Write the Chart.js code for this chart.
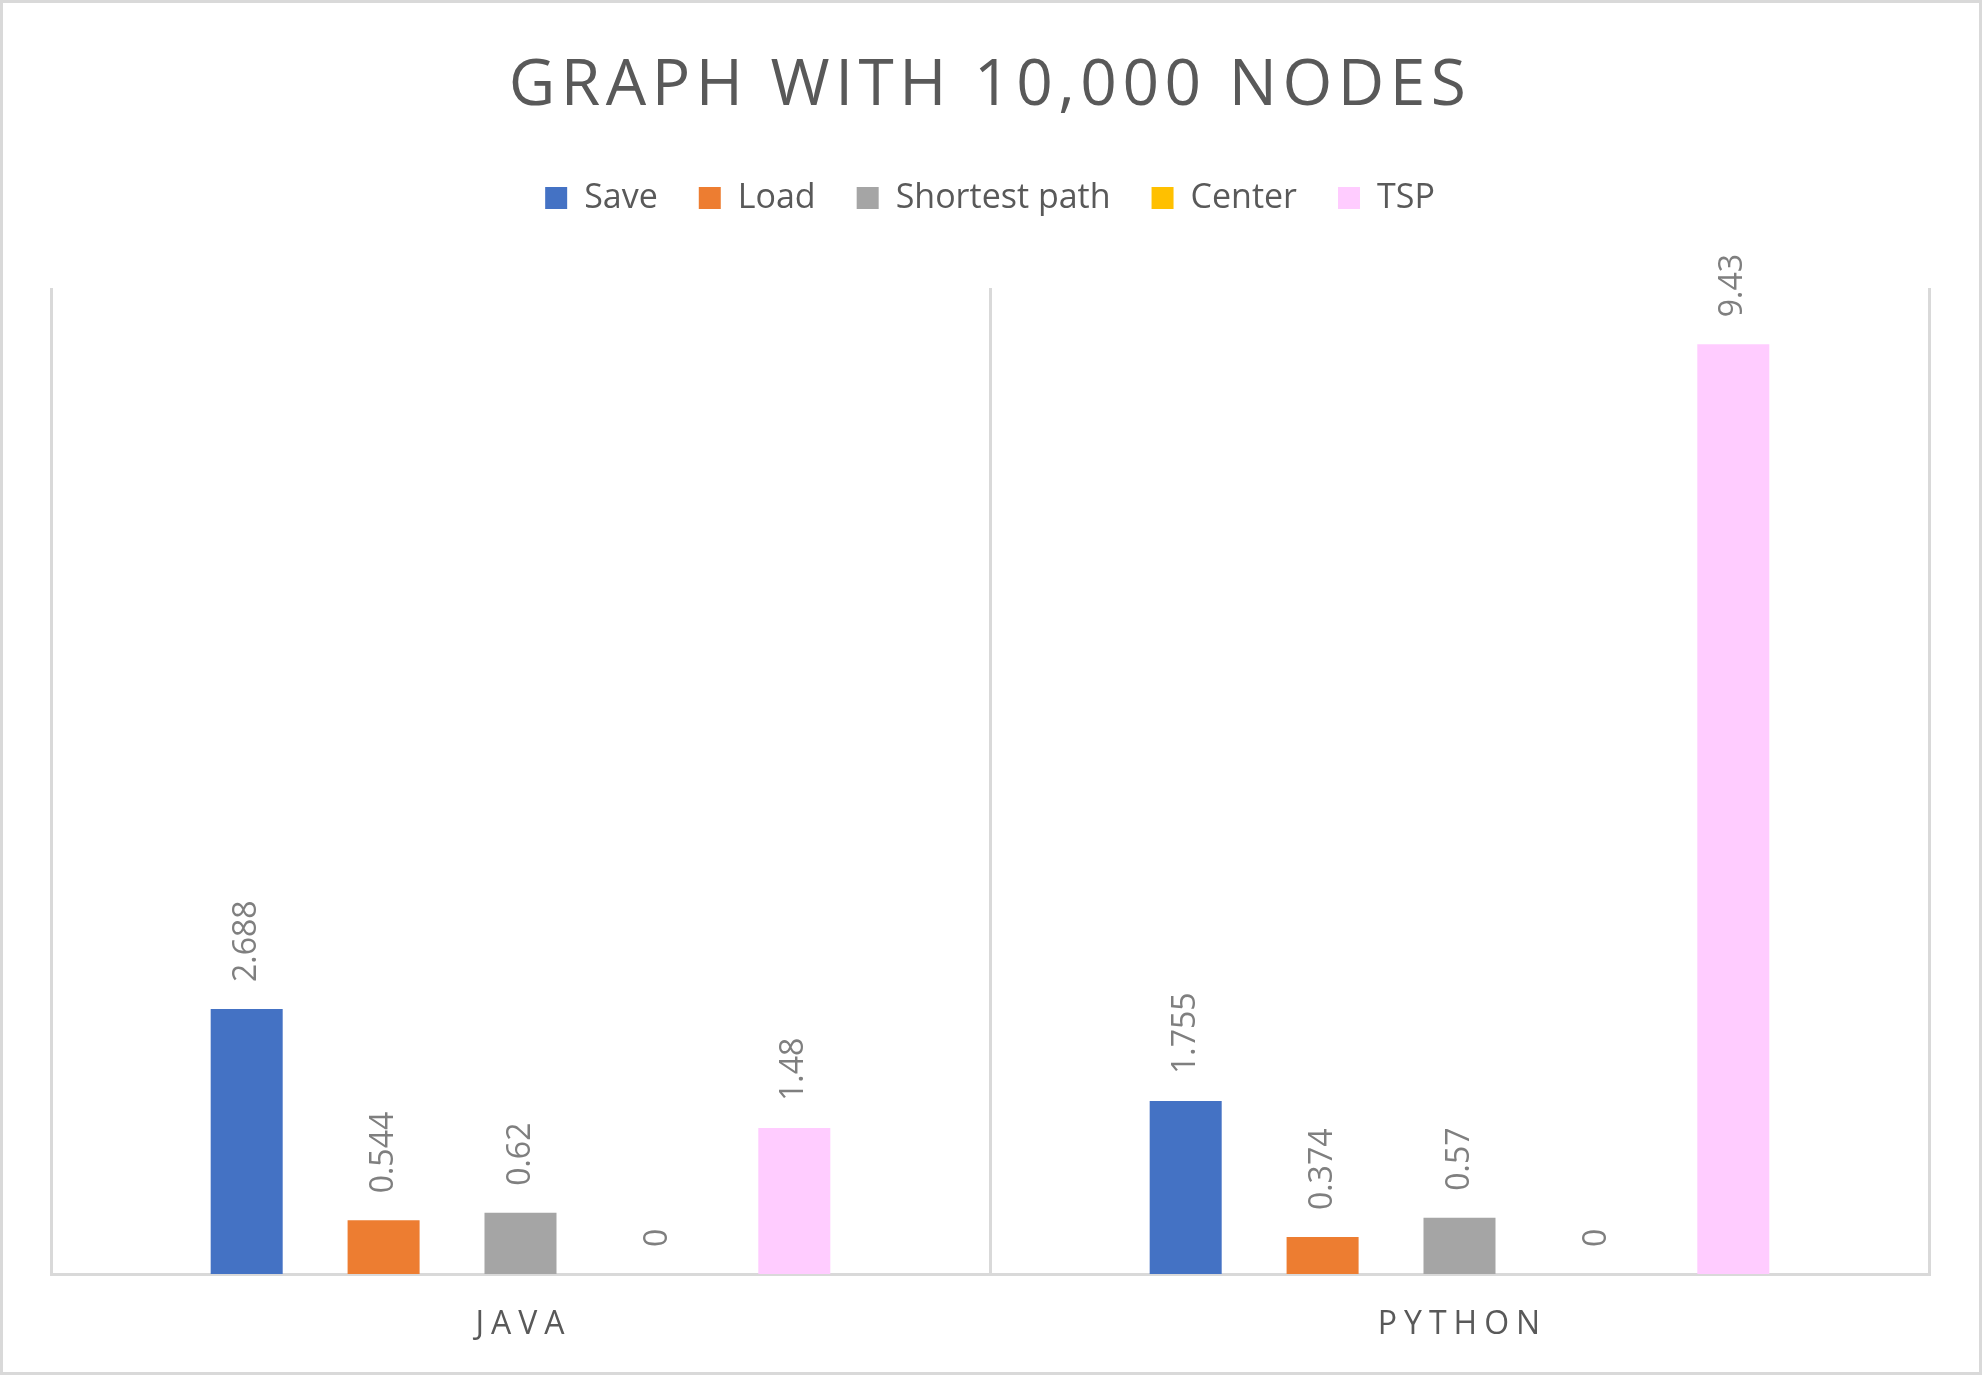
<!DOCTYPE html>
<html>
<head>
<meta charset="utf-8">
<title>Graph with 10,000 nodes</title>
<script src="https://cdn.jsdelivr.net/npm/chart.js@4.4.1/dist/chart.umd.min.js"></script>
<style>
  html, body { margin: 0; padding: 0; background: #fff; }
  .frame { position: relative; width: 1982px; height: 1375px; }
  .frame::after { content: ''; position: absolute; inset: 0; border: 3px solid #d9d9d9; pointer-events: none; }
  canvas { display: block; }
</style>
</head>
<body>
<div class="frame"><canvas id="timingChart" width="1982" height="1375"></canvas></div>
<script>
const chartTitle = 'GRAPH WITH 10,000 NODES';
const languages = ['JAVA', 'PYTHON'];
const seriesNames = ['Save', 'Load', 'Shortest path', 'Center', 'TSP'];
const saveTimes = [2.688, 1.755];
const loadTimes = [0.544, 0.374];
const shortestPathTimes = [0.62, 0.57];
const centerTimes = [0, 0];
const tspTimes = [1.48, 9.43];
const seriesColors = ['#4472C4', '#ED7D31', '#A5A5A5', '#FFC000', '#FFCCFF'];

const fontFamily = '"Open Sans", "Noto Sans", sans-serif';
const textColor = '#595959';
const valueColor = '#7f7f7f';
const lineColor = '#d9d9d9';

Chart.defaults.font.family = fontFamily;

// title, spaced category names and rotated value labels (canvas letterSpacing)
const excelText = {
  id: 'excelText',
  beforeInit(chart) {
    // leave a gap between the legend and the plot area
    const fit = chart.legend.fit;
    chart.legend.fit = function () {
      fit.call(this);
      this.height += 63;
    };
  },
  afterDraw(chart) {
    const ctx = chart.ctx;
    const area = chart.chartArea;
    const x = chart.scales.x;
    ctx.save();
    ctx.fillStyle = textColor;
    ctx.textAlign = 'center';
    ctx.textBaseline = 'alphabetic';

    ctx.font = '64px ' + fontFamily;
    ctx.letterSpacing = '5.5px';
    ctx.fillText(chartTitle, (area.left + area.right) / 2, 105);

    ctx.font = '32px ' + fontFamily;
    ctx.letterSpacing = '7px';
    languages.forEach((name, i) => {
      ctx.fillText(name, x.getPixelForValue(i) + 3, x.bottom + 60);
    });

    ctx.letterSpacing = '0px';
    ctx.font = '32px ' + fontFamily;
    ctx.fillStyle = valueColor;
    ctx.textAlign = 'left';
    ctx.textBaseline = 'middle';
    chart.data.datasets.forEach((ds, di) => {
      chart.getDatasetMeta(di).data.forEach((bar, i) => {
        ctx.save();
        ctx.translate(bar.x, bar.y - 27);
        ctx.rotate(-Math.PI / 2);
        ctx.fillText(String(ds.data[i]), 0, 0);
        ctx.restore();
      });
    });
    ctx.restore();
  },
};

const seriesData = [saveTimes, loadTimes, shortestPathTimes, centerTimes, tspTimes];

new Chart(document.getElementById('timingChart'), {
  type: 'bar',
  data: {
    labels: languages,
    datasets: seriesNames.map((name, i) => ({
      label: name,
      data: seriesData[i],
      backgroundColor: seriesColors[i],
      borderWidth: 0,
      categoryPercentage: 0.729,
      barPercentage: 0.526,
    })),
  },
  options: {
    responsive: false,
    animation: false,
    devicePixelRatio: 1,
    layout: { padding: { top: 140, left: 51, right: 53, bottom: 101 } },
    plugins: {
      legend: {
        position: 'top',
        labels: {
          color: textColor,
          font: { size: 34 },
          boxWidth: 22,
          boxHeight: 22,
          padding: 41,
        },
      },
      tooltip: { enabled: false },
    },
    scales: {
      x: {
        grid: { color: lineColor, lineWidth: 3, drawTicks: false, offset: true },
        border: { color: lineColor, width: 3 },
        ticks: { display: false },
      },
      y: { display: false, min: 0, max: 10 },
    },
  },
  plugins: [excelText],
});
</script>
</body>
</html>
